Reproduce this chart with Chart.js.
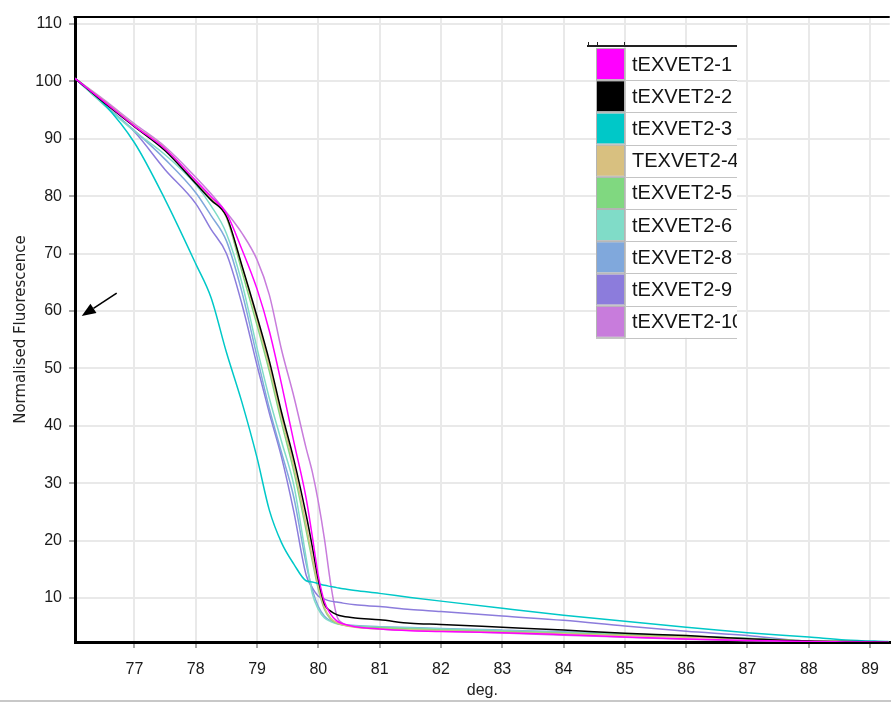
<!DOCTYPE html>
<html>
<head>
<meta charset="utf-8">
<title>Melt curves</title>
<script src="https://cdn.jsdelivr.net/npm/chart.js@4.4.1/dist/chart.umd.min.js"></script>
<style>
    html, body { margin: 0; padding: 0; background: #fff; }
    #meltChart { display: block; }
</style>
</head>
<body>
<canvas id="meltChart" width="891" height="703"></canvas>
<script>
// Temperature points (deg.) shared by every sample
const temps = [76.03, 76.5, 77, 77.5, 78, 78.25, 78.5, 78.75, 79, 79.2, 79.4, 79.6, 79.8, 79.9, 80,
    80.1, 80.2, 80.3, 80.4, 80.6, 81, 81.5, 82, 83, 84, 85, 86, 87, 88, 88.6, 89.3];

// Normalised fluorescence per sample
const tex1 = [100.5, 96.5, 92.2, 88.2, 82.7, 79.9, 77.0, 70.8, 63.8, 56.5, 47.2, 37.2, 27.4, 20.8, 13.8,
    9.3, 7.2, 6.0, 5.5, 5.0, 4.6, 4.3, 4.15, 3.95, 3.6, 3.2, 2.85, 2.6, 2.4, 2.35, 2.3];
const tex2 = [100.5, 96.3, 92.1, 87.9, 82.2, 79.3, 76.5, 68.0, 59.0, 51.3, 42.3, 34.1, 24.5, 19.0, 13.1,
    8.9, 7.7, 7.1, 6.8, 6.5, 6.2, 5.6, 5.4, 4.9, 4.4, 3.85, 3.45, 2.9, 2.5, 2.4, 2.35];
const tex3 = [100.5, 96.1, 89.3, 79.4, 68.2, 62.3, 52.8, 44.2, 34.4, 25.3, 19.6, 15.9, 13.0, 12.8, 12.5,
    12.2, 12.0, 11.8, 11.6, 11.3, 10.8, 10.1, 9.45, 8.2, 7.0, 5.95, 4.9, 3.95, 3.2, 2.7, 2.4];
const tex4 = [100.5, 96.6, 92.3, 88.3, 82.6, 79.7, 76.4, 67.8, 58.4, 50.4, 41.5, 33.0, 22.8, 17.2, 12.0,
    8.3, 6.5, 5.7, 5.3, 4.9, 4.6, 4.45, 4.3, 4.05, 3.75, 3.45, 3.15, 2.85, 2.5, 2.4, 2.35];
const tex5 = [100.5, 96.6, 92.2, 88.2, 82.5, 79.6, 76.3, 67.0, 57.5, 49.5, 40.5, 32.0, 21.8, 16.5, 11.5,
    8.0, 6.3, 5.6, 5.3, 5.0, 4.8, 4.6, 4.4, 4.15, 3.9, 3.6, 3.3, 3.0, 2.5, 2.4, 2.35];
const tex6 = [100.5, 95.9, 91.3, 87.2, 82.0, 78.3, 73.5, 65.0, 53.5, 44.8, 37.2, 29.6, 17.0, 10.8, 8.0,
    6.5, 5.9, 5.5, 5.3, 5.1, 4.9, 4.75, 4.6, 4.3, 4.0, 3.7, 3.35, 2.9, 2.5, 2.4, 2.35];
const tex8 = [100.5, 96.0, 91.4, 86.4, 80.6, 76.6, 72.2, 63.4, 52.0, 43.0, 35.3, 27.5, 16.0, 11.5, 8.5,
    6.8, 6.0, 5.6, 5.4, 5.2, 5.0, 4.85, 4.7, 4.4, 4.1, 3.75, 3.35, 2.95, 2.5, 2.4, 2.35];
const tex9 = [100.5, 96.0, 91.2, 84.6, 78.7, 74.2, 70.0, 61.3, 50.5, 42.2, 34.5, 25.0, 14.0, 11.8, 10.3,
    9.8, 9.45, 9.3, 9.1, 8.8, 8.5, 8.0, 7.65, 6.85, 6.1, 5.1, 4.2, 3.45, 2.45, 2.35, 2.3];
const tex10 = [100.5, 96.8, 92.6, 88.6, 83.3, 80.4, 77.2, 73.6, 68.9, 62.8, 53.2, 45.1, 36.1, 32.0, 26.7,
    20.2, 12.5, 6.9, 5.6, 5.0, 4.6, 4.4, 4.2, 3.9, 3.5, 3.15, 2.8, 2.55, 2.4, 2.35, 2.3];

const sampleNames = ['tEXVET2-1', 'tEXVET2-2', 'tEXVET2-3', 'TEXVET2-4', 'tEXVET2-5',
    'tEXVET2-6', 'tEXVET2-8', 'tEXVET2-9', 'tEXVET2-10'];
const sampleColors = ['#ff00ff', '#000000', '#00c8c8', '#d8c080', '#80d880',
    '#80dcc8', '#80a8dc', '#8c7cdc', '#c87cdc'];
const sampleValues = [tex1, tex2, tex3, tex4, tex5, tex6, tex8, tex9, tex10];

// Axis ticks
const xTicks = [77, 78, 79, 80, 81, 82, 83, 84, 85, 86, 87, 88, 89];
const yTicks = [10, 20, 30, 40, 50, 60, 70, 80, 90, 100, 110];

// Arrow marker near the y axis (tail -> tip, in data units)
const arrowTail = { x: 76.71, y: 63.1 };
const arrowTip = { x: 76.14, y: 59.1 };

const labelFont = "'Liberation Sans', Arial, sans-serif";

// Top frame line, marker arrow and the bottom separator
const framePlugin = {
    id: 'frame',
    afterDraw(chart) {
        const ctx = chart.ctx;
        const area = chart.chartArea;
        const xs = chart.scales.x;
        const ys = chart.scales.y;
        ctx.save();
        ctx.strokeStyle = '#000';
        ctx.lineWidth = 2;
        ctx.beginPath();
        ctx.moveTo(area.left - 1.5, area.top);
        ctx.lineTo(area.right, area.top);
        ctx.stroke();

        // arrow
        const x1 = xs.getPixelForValue(arrowTail.x), y1 = ys.getPixelForValue(arrowTail.y);
        const x2 = xs.getPixelForValue(arrowTip.x), y2 = ys.getPixelForValue(arrowTip.y);
        const ang = Math.atan2(y2 - y1, x2 - x1);
        const head = 14, half = 5.5;
        const bx = x2 - head * Math.cos(ang), by = y2 - head * Math.sin(ang);
        ctx.lineWidth = 1.6;
        ctx.beginPath();
        ctx.moveTo(x1, y1);
        ctx.lineTo(bx, by);
        ctx.stroke();
        ctx.fillStyle = '#000';
        ctx.beginPath();
        ctx.moveTo(x2, y2);
        ctx.lineTo(bx + half * Math.sin(ang), by - half * Math.cos(ang));
        ctx.lineTo(bx - half * Math.sin(ang), by + half * Math.cos(ang));
        ctx.closePath();
        ctx.fill();

        // separator under the axis title
        ctx.strokeStyle = '#c8c8c8';
        ctx.lineWidth = 2;
        ctx.beginPath();
        ctx.moveTo(0, chart.height - 2);
        ctx.lineTo(chart.width, chart.height - 2);
        ctx.stroke();
        ctx.restore();
    }
};

// Table-style legend with colour swatches
const tableLegendPlugin = {
    id: 'tableLegend',
    afterDraw(chart) {
        const ctx = chart.ctx;
        const left = 596, top = 48, swatchW = 29, right = 737, rowH = 32.2;
        const sets = chart.data.datasets;
        const bottom = top + rowH * sets.length;
        ctx.save();
        ctx.fillStyle = '#fff';
        ctx.fillRect(left, top, right - left, bottom - top);

        sets.forEach((ds, i) => {
            const rt = top + i * rowH;
            ctx.fillStyle = ds.borderColor;
            ctx.fillRect(left + 1, rt + 1, swatchW - 2, rowH - 2);
            ctx.strokeStyle = '#b4b4b4';
            ctx.lineWidth = 1;
            ctx.strokeRect(left + 0.5, rt + 0.5, swatchW - 1, rowH - 1);

            ctx.save();
            ctx.beginPath();
            ctx.rect(left + swatchW, rt, right - left - swatchW, rowH);
            ctx.clip();
            ctx.fillStyle = '#151515';
            ctx.font = '20px ' + labelFont;
            ctx.textBaseline = 'middle';
            ctx.fillText(ds.label, left + swatchW + 7, rt + rowH / 2 + 1);
            ctx.restore();

            ctx.strokeStyle = '#c4c4c4';
            ctx.beginPath();
            ctx.moveTo(left, Math.round(rt + rowH) + 0.5);
            ctx.lineTo(right, Math.round(rt + rowH) + 0.5);
            ctx.stroke();
        });

        // column divider
        ctx.strokeStyle = '#c4c4c4';
        ctx.beginPath();
        ctx.moveTo(left + swatchW + 0.5, top);
        ctx.lineTo(left + swatchW + 0.5, bottom);
        ctx.stroke();

        // header rule
        ctx.strokeStyle = '#222';
        ctx.lineWidth = 2;
        ctx.beginPath();
        ctx.moveTo(587, top - 2);
        ctx.lineTo(right, top - 2);
        ctx.stroke();
        ctx.lineWidth = 1;
        [588, left + 1, left + swatchW - 1].forEach(x => {
            ctx.beginPath();
            ctx.moveTo(x + 0.5, top - 6);
            ctx.lineTo(x + 0.5, top - 2);
            ctx.stroke();
        });
        ctx.restore();
    }
};

function buildDatasets() {
    return sampleValues.map((vals, i) => ({
        label: sampleNames[i],
        data: temps.map((t, j) => ({ x: t, y: vals[j] })),
        borderColor: sampleColors[i],
        backgroundColor: sampleColors[i],
        borderWidth: 1.5,
        pointRadius: 0,
        cubicInterpolationMode: 'monotone',
        fill: false
    }));
}

function createMeltChart() {
    const ctx = document.getElementById('meltChart').getContext('2d');
    new Chart(ctx, {
        type: 'line',
        data: { datasets: buildDatasets() },
        options: {
            responsive: false,
            animation: false,
            devicePixelRatio: 1,
            layout: { padding: { top: 17, right: 0, left: 0, bottom: 0 } },
            plugins: {
                legend: { display: false },
                tooltip: { enabled: false }
            },
            scales: {
                x: {
                    type: 'linear',
                    min: 76.03,
                    max: 89.32,
                    afterFit: scale => { scale.height = 61; },
                    afterBuildTicks: scale => { scale.ticks = xTicks.map(v => ({ value: v })); },
                    grid: { color: '#e9e9e9', lineWidth: 2, tickColor: '#a8a8a8', tickLength: 6, tickWidth: 2 },
                    border: { color: '#000', width: 3 },
                    ticks: {
                        padding: 12,
                        maxRotation: 0,
                        color: '#1a1a1a',
                        font: { family: labelFont, size: 16 },
                        callback: v => String(v)
                    },
                    title: {
                        display: true,
                        text: 'deg.',
                        color: '#222',
                        font: { family: labelFont, size: 16 },
                        padding: { top: 0, bottom: 3 }
                    }
                },
                y: {
                    min: 2.33,
                    max: 111.2,
                    afterFit: scale => { scale.width = 75; },
                    afterBuildTicks: scale => { scale.ticks = yTicks.map(v => ({ value: v })); },
                    grid: { color: '#e9e9e9', lineWidth: 2, tickColor: '#a8a8a8', tickLength: 6, tickWidth: 2 },
                    border: { color: '#000', width: 3 },
                    ticks: {
                        padding: 7,
                        color: '#1a1a1a',
                        font: { family: labelFont, size: 16 },
                        callback: v => String(v)
                    },
                    title: {
                        display: true,
                        text: 'Normalised Fluorescence',
                        color: '#222',
                        font: { family: "'DejaVu Sans', sans-serif", size: 15 },
                        padding: { top: 12, bottom: 0 }
                    }
                }
            }
        },
        plugins: [framePlugin, tableLegendPlugin]
    });
}

document.addEventListener('DOMContentLoaded', createMeltChart);
</script>
</body>
</html>
